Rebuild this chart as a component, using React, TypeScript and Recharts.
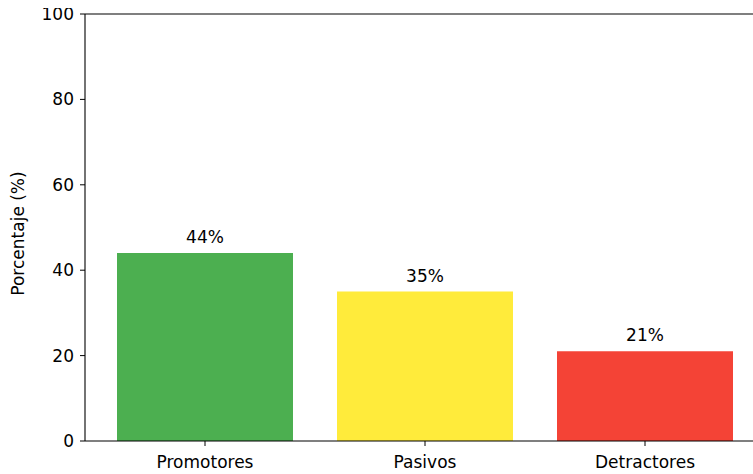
import React from 'react';
import { BarChart, Bar, XAxis, YAxis, Cell, LabelList, ReferenceLine, Label } from 'recharts';

const categories = ['Promotores', 'Pasivos', 'Detractores'];
const values = [44, 35, 21];
const colors = ['#4CAF50', '#FFEB3B', '#F44336'];
const yTicks = [0, 20, 40, 60, 80, 100];

const data = categories.map((c, i) => ({ name: c, value: values[i] }));

const font = 'DejaVu Sans, sans-serif';
const fs = 17;

const YLabel = (props: any) => {
  const vb = props.viewBox || {};
  const x = (vb.x ?? 0) + 10;
  const y = (vb.y ?? 0) + (vb.height ?? 0) / 2 + 6;
  return (
    <text x={x} y={y} transform={`rotate(-90, ${x}, ${y})`} textAnchor="middle" dominantBaseline="central"
      fontFamily={font} fontSize={fs} fill="#000">
      Porcentaje (%)
    </text>
  );
};

export default function App() {
  return (
    <div style={{ position: 'absolute', left: 8, top: 8, width: 745, height: 466, overflow: 'hidden' }}>
      <BarChart width={757} height={466} data={data} margin={{ top: 6, right: 0, bottom: 3, left: 0 }}
        barCategoryGap="10%">
        <XAxis dataKey="name" height={30} padding={{ left: 10, right: 10 }} tickSize={5} tickMargin={10}
          stroke="#000" tick={{ fill: '#000', fontFamily: font, fontSize: fs }} axisLine={{ stroke: '#000', strokeWidth: 1.1 }}
          tickLine={{ stroke: '#000' }} />
        <YAxis width={77} domain={[0, 100]} ticks={yTicks} tickSize={5} tickMargin={6} interval={0}
          stroke="#000" tick={{ fill: '#000', fontFamily: font, fontSize: fs }} axisLine={{ stroke: '#000', strokeWidth: 1.1 }}
          tickLine={{ stroke: '#000' }}>
          <Label content={<YLabel />} />
        </YAxis>
        <ReferenceLine y={100} stroke="#000" strokeWidth={1.1} />
        <Bar dataKey="value" isAnimationActive={false}>
          {data.map((d, i) => <Cell key={d.name} fill={colors[i]} />)}
          <LabelList dataKey="value" position="top" offset={10} formatter={(v: any) => `${v}%`}
            style={{ fill: '#000', fontFamily: font, fontSize: fs }} />
        </Bar>
      </BarChart>
    </div>
  );
}
